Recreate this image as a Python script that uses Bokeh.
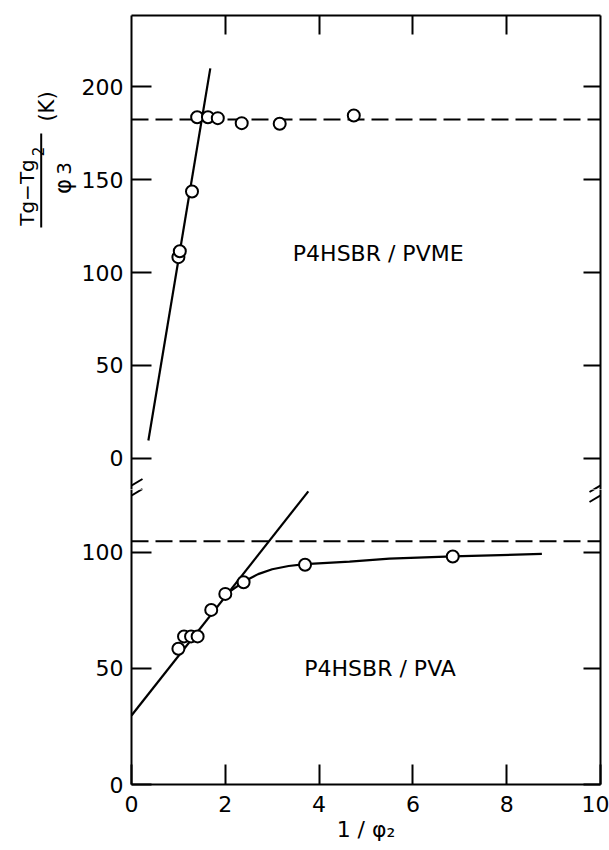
import math

from bokeh.embed import file_html
from bokeh.layouts import column, row
from bokeh.models import Arrow, FixedTicker, Label, LinearAxis, Range1d
from bokeh.plotting import figure
from bokeh.resources import INLINE

# ---- data: (Tg - Tg2) / phi3 versus 1 / phi2 ----
# P4HSBR / PVME (upper panel)
pvme_x = [1.00, 1.03, 1.29, 1.40, 1.63, 1.84, 2.35, 3.16, 4.74]
pvme_y = [108.3, 111.5, 143.7, 183.7, 183.7, 183.2, 180.5, 180.2, 184.6]
pvme_fit_x = [0.36, 1.68]
pvme_fit_y = [9.5, 210.0]
pvme_limit = 182.5

# P4HSBR / PVA (lower panel)
pva_x = [1.00, 1.12, 1.27, 1.41, 1.70, 2.00, 2.39, 3.70, 6.85]
pva_y = [58.4, 63.7, 63.7, 63.7, 75.1, 82.0, 87.0, 94.5, 98.1]
pva_fit_x = [0.0, 3.77]
pva_fit_y = [29.7, 126.1]
pva_curve_x = [2.10, 2.40, 2.70, 3.00, 3.35, 3.70, 4.65, 5.50, 6.85, 8.75]
pva_curve_y = [83.1, 87.3, 90.5, 92.6, 94.0, 94.8, 95.9, 97.2, 98.1, 99.2]
pva_limit = 104.6

x_ticks = [0, 2, 4, 6, 8, 10]
top_x_ticks = [2, 4, 6, 8]
upper_y_ticks = [0, 50, 100, 150, 200]
lower_y_ticks = [0, 50, 100]

# ---- layout ----
TITLE_W = 77                 # strip holding the rotated y-axis title
WIDTH = 609 - TITLE_W
LEFT, RIGHT = 54, 9
FRAME_W = WIDTH - LEFT - RIGHT
UPPER_TOP, UPPER_FRAME_H = 15, 474
LOWER_FRAME_H, LOWER_BOTTOM = 295, 66
UPPER_H = UPPER_TOP + UPPER_FRAME_H

X0, X1 = 0, 10
UY0, UY1 = -16.9, 238.5
LY0, LY1 = 0, 126.9

FONT = "DejaVu Sans"
INK = "black"

px_x = FRAME_W / (X1 - X0)
px_uy = UPPER_FRAME_H / (UY1 - UY0)
px_ly = LOWER_FRAME_H / (LY1 - LY0)


def style_axis(ax, ticks, tick_len, labels):
    ax.ticker = FixedTicker(ticks=ticks)
    ax.axis_line_color = INK
    ax.axis_line_width = 2
    ax.major_tick_line_color = INK
    ax.major_tick_line_width = 2
    ax.major_tick_in = tick_len
    ax.major_tick_out = 0
    ax.minor_tick_line_color = None
    ax.major_label_text_font = FONT
    ax.major_label_text_color = INK
    if labels:
        ax.major_label_text_font_size = "22px"
    else:
        # tick marks only: blank labels, no room reserved for them
        ax.major_label_overrides = {t: "" for t in ticks}
        ax.major_label_text_font_size = "1px"
        ax.major_label_standoff = 0


def make_fig(height, y_range, border_top, border_bottom):
    p = figure(
        width=WIDTH, height=height,
        x_range=Range1d(X0, X1), y_range=y_range,
        x_axis_location=None, y_axis_location=None,
        output_backend="svg", toolbar_location=None,
        min_border_left=LEFT, min_border_right=RIGHT,
        min_border_top=border_top, min_border_bottom=border_bottom,
    )
    p.outline_line_color = None
    p.grid.visible = False
    p.background_fill_color = "white"
    p.border_fill_color = "white"
    return p


def axis_break(p, y_center, px_y):
    # two short parallel strokes across both vertical axes
    dx = 11 / px_x
    rise = 6.5 / px_y
    gap = 5 / px_y
    for xc in (X0, X1):
        for off in (gap, -gap):
            p.add_layout(Arrow(end=None, x_start=xc - dx, y_start=y_center + off - rise,
                               x_end=xc + dx, y_end=y_center + off + rise,
                               line_color=INK, line_width=2))


# ---- rotated y-axis title:  (Tg - Tg2) / phi3   (K) ----
title = figure(width=TITLE_W, height=UPPER_H, x_range=Range1d(0, TITLE_W),
               y_range=Range1d(0, UPPER_H), x_axis_location=None, y_axis_location=None,
               output_backend="svg", toolbar_location=None, min_border=0)
title.outline_line_color = None
title.grid.visible = False

rot = math.pi / 2
for txt, px, py, size in [("Tg\u2212Tg", 26, 192, "20px"), ("2", 37, 151, "15px"),
                          ("\u03c6", 62, 186, "23px"), ("3", 63, 168, "20px"),
                          ("(K)", 46, 106, "21px")]:
    title.add_layout(Label(x=px, y=UPPER_H - py, text=txt, angle=rot, text_align="center",
                           text_baseline="alphabetic", text_font=FONT,
                           text_font_size=size, text_color=INK))
title.line([40.7, 40.7], [UPPER_H - 227, UPPER_H - 133], line_color=INK, line_width=2)

# ---- upper panel ----
up = make_fig(UPPER_H, Range1d(UY0, UY1), UPPER_TOP, 0)
ax = LinearAxis(); style_axis(ax, upper_y_ticks, 20, True); ax.major_label_standoff = 8
up.add_layout(ax, "left")
ax = LinearAxis(); style_axis(ax, upper_y_ticks, 17, False)
up.add_layout(ax, "right")
ax = LinearAxis(); style_axis(ax, top_x_ticks, 19, False)
up.add_layout(ax, "above")

up.line([X0, X1], [pvme_limit, pvme_limit], line_color=INK, line_width=2, line_dash="17 7")
up.line(pvme_fit_x, pvme_fit_y, line_color=INK, line_width=2.2)
up.scatter(pvme_x, pvme_y, marker="circle", size=12, fill_color="white",
           line_color=INK, line_width=2)
up.add_layout(Label(x=5.26, y=110, text="P4HSBR / PVME", text_align="center",
                    text_baseline="middle", text_font=FONT, text_font_size="22px",
                    text_color=INK))
axis_break(up, UY0 - 1 / px_uy, px_uy)

# ---- lower panel ----
lo = make_fig(LOWER_FRAME_H + LOWER_BOTTOM, Range1d(LY0, LY1), 0, LOWER_BOTTOM)
ax = LinearAxis(); style_axis(ax, lower_y_ticks, 20, True); ax.major_label_standoff = 8
lo.add_layout(ax, "left")
ax = LinearAxis(); style_axis(ax, lower_y_ticks, 17, False)
lo.add_layout(ax, "right")
ax = LinearAxis(); style_axis(ax, x_ticks, 20, True); ax.major_label_standoff = 11
ax.axis_label = "1 / \u03c6\u2082"
ax.axis_label_text_font = FONT
ax.axis_label_text_font_size = "22px"
ax.axis_label_text_font_style = "normal"
ax.axis_label_text_color = INK
ax.axis_label_standoff = 2
lo.add_layout(ax, "below")

lo.line([X0, X1], [pva_limit, pva_limit], line_color=INK, line_width=2, line_dash="17 7")
lo.line(pva_fit_x, pva_fit_y, line_color=INK, line_width=2.2)
lo.line(pva_curve_x, pva_curve_y, line_color=INK, line_width=2.2)
lo.scatter(pva_x, pva_y, marker="circle", size=12, fill_color="white",
           line_color=INK, line_width=2)
lo.add_layout(Label(x=5.3, y=50, text="P4HSBR / PVA", text_align="center",
                    text_baseline="middle", text_font=FONT, text_font_size="22px",
                    text_color=INK))
axis_break(lo, LY1 - 1 / px_ly, px_ly)

layout = row(title, column(up, lo, spacing=0), spacing=0)
open("out.html", "w").write(file_html(layout, INLINE))
